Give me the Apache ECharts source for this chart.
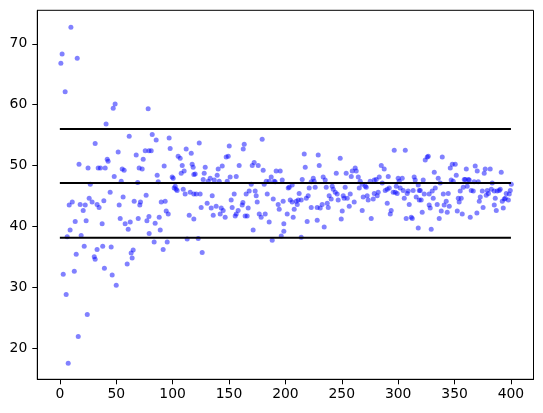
<!DOCTYPE html>
<html>
<head>
<meta charset="utf-8">
<script src="https://cdn.jsdelivr.net/npm/echarts@6/dist/echarts.min.js"></script>
<style>
html,body{margin:0;padding:0;background:#fff;}
#chart{width:543px;height:413px;}
</style>
</head>
<body>
<div id="chart"></div>
<script>
const points = [
[9.8,72.7],[2,68.3],[0.9,66.8],[15.4,67.6],[4.7,62.1],[31.3,53.6],[17,50.2],[25,49.6],[34,49.6],[36,49.6],[27,46.9],[8.3,43.5],[11,44],[18,43.6],[22.5,43.5],[20.7,42.6],[26,44.6],[28.6,44],[33,43.6],[34.8,43.1],[39,44.2],[13.6,40.8],[23.3,40.9],[9.1,39.4],[37.5,40.4],[6.5,38.3],[18.9,38.5],[21.6,36.7],[14.5,35.4],[30.5,35],[31.3,34.6],[33,36.2],[38,36.7],[3,32.1],[12.8,32.6],[39.5,33.1],[5.6,28.8],[24.3,25.5],[16.3,21.9],[7.4,17.5],
[41,56.8],[49,60.1],[47.3,59.4],[78.3,59.3],[61.5,54.8],[51.7,52.2],[67.7,51.7],[75.7,52.4],[79,52.4],[73.9,51],[42,51],[42.8,50.7],[40.2,49.6],[55.3,49.4],[57,49.2],[70.3,49.6],[73,49.4],[48.2,48.2],[54.4,47.4],[69,47.2],[44.6,45.6],[56.1,44.8],[65.9,44.1],[71.5,44],[76.5,45.1],[70.9,43.5],[52.6,43.5],[53.5,41.3],[69.5,41.3],[79,41.6],[77.2,40.9],[62.4,40.7],[57.9,40.4],[60.6,39.5],[79.2,38.8],[45.5,36.6],[65,36.1],[63.2,35.6],[64.1,34.8],[59.7,33.8],[46.4,32],[50,30.3],
[81.9,55.1],[96.9,54.5],[85.4,54.2],[97.8,52.8],[81,52.4],[112,52.7],[116.5,52],[104.9,51.5],[106.7,51.2],[108.5,50],[117.3,50.2],[118.2,49.7],[92.5,49.9],[110.2,49.1],[107.6,48.7],[118.8,48.5],[86.3,48.4],[99.6,48.1],[100.5,47.9],[87.2,47.3],[102.3,46.6],[101.4,46.3],[103.1,46.1],[104,45.9],[109.4,46.1],[115.6,45.6],[111.1,45.3],[118.8,45.3],[89.9,44],[93.4,44.1],[94.3,42.5],[96.1,42],[88.1,41.5],[114.7,41.8],[118.8,41.2],[84.5,40.5],[89,39.4],[112.9,37.9],[83.6,37.4],[95.2,37.4],[91.6,36.2],
[123.6,53.7],[150.2,53.2],[147.5,51.4],[149.3,51.5],[128.9,49.7],[144,49.9],[140.4,49.4],[159,50],[120,48.6],[128,48.7],[139.5,48.4],[151,48.1],[156.4,48.2],[127.1,47.7],[133.3,47.9],[136.9,47.6],[131.5,47.4],[141.3,47.4],[148.4,47.4],[120.9,45.3],[124.4,45.3],[135.1,45],[154.6,45.3],[151.9,44.3],[162.3,43.9],[130.6,43.8],[125.3,43.1],[134.2,43],[138.6,43.3],[143.1,43],[144.8,42.6],[152.8,43.1],[158.1,42.6],[156.4,42],[155.5,41.7],[136,41.8],[142.2,42],[146.6,41.5],[122.7,38],[126.2,35.7],
[179.4,54.3],[163.5,53.5],[162.6,52.7],[170.6,50],[172.3,50.5],[175.9,50],[180.3,49.2],[191.8,49.1],[195.4,49.1],[187.4,48.1],[183,47.4],[185.6,47.4],[190,47.4],[190.9,47.3],[197.2,47.6],[169.7,46.9],[181.2,46.9],[167.9,45.8],[165.2,45.3],[173.2,45.8],[174.1,45],[183.9,45.3],[189.2,44.5],[198,44.1],[175,44],[193.6,43.6],[194.5,42.8],[167,43],[164.3,41.7],[166.1,41.7],[176.8,42],[178.5,41.5],[182.1,42],[185.6,40.7],[198.6,40.4],[198.6,39.2],[171.4,39.4],[196.3,38.4],[188.3,37.7],[161.7,43.5],
[216.7,51.9],[229.1,51.7],[230,50],[217.6,49.7],[233.5,48.1],[235.3,47.6],[214.9,47.7],[224.7,47.9],[225.5,47.4],[222.9,47.3],[206,46.8],[203.4,46.4],[202.5,46.3],[221.1,46.3],[226.4,46.4],[236.2,46.4],[212.2,45.4],[238.8,45],[220.2,45],[218.5,44.6],[204.3,44.3],[206,44],[209.6,44.1],[211.4,44.3],[214,44.3],[210.5,43.6],[232.6,43.6],[237.1,43.8],[238,43.1],[228.2,43.1],[222.9,43.1],[230.9,43],[207.8,42.8],[201.6,42],[206.9,41.5],[219.3,40.8],[228.2,41],[234.4,39.9],[214,38.2],
[248.6,51.2],[245.1,48.7],[253.9,48.7],[258.4,48.2],[259.3,49.1],[261.9,49.6],[262.8,49.1],[264.6,48.1],[266.3,47.4],[268.1,46.9],[270.8,46.6],[275.2,47.4],[278.8,47.6],[241.5,46.6],[242.4,46.1],[244.2,45.6],[245.9,45.3],[253,46.4],[265.5,46.3],[271.7,46.4],[278.8,45.4],[240.6,44.5],[246.8,44.3],[251.3,45],[252.1,44.6],[254.8,44.6],[257.5,45.3],[269,44.8],[272.5,45],[273.4,44.3],[277.9,44.5],[261,44],[256.6,43.3],[250.4,42.5],[268.1,42.6],[249.5,41.2],[276.1,41.3],
[296.5,52.5],[306.3,52.5],[285,50],[287.6,49.4],[291.2,48.2],[283.2,48.1],[280.5,47.7],[300,47.9],[303.6,47.9],[300.9,47.4],[314.2,48.1],[315.1,47.6],[317.8,46.8],[285.9,47.1],[298.3,46.6],[301.8,46.3],[304.5,45.9],[308.9,45.8],[313.3,45.9],[288.5,45.9],[290.3,46.1],[292.1,46.3],[295.6,45.6],[297.4,45.6],[299.1,45.4],[318.7,45.9],[282.3,45.6],[281.4,45],[308,45.4],[316,44.8],[305.4,44.6],[318.7,44.3],[290.3,43.8],[309.8,43.6],[293.8,42.6],[293,42],[307.1,41.3],[311.6,41.5],[312.5,41.3],[317.8,39.7],
[326.7,51.5],[325.8,51.4],[324,50.9],[339.1,51.4],[348,50.2],[350.6,50.2],[346.2,49.6],[332,48.9],[351.5,48.4],[335.5,47.9],[322.2,47.6],[347,47.6],[348.8,47.4],[358.6,47.7],[337.3,47.1],[319.6,45.9],[323.1,45.3],[320.4,44.3],[332.9,46.3],[330.2,45.8],[327.5,45.3],[340,45.3],[344.4,45.4],[355,45.8],[357.7,46.4],[331.1,44.6],[342.6,44.1],[353.3,44.6],[355.9,44.6],[354.1,44],[334.6,43.6],[327.5,43.5],[328.4,43],[340.8,43.5],[345.3,43.3],[321.3,42.3],[338.2,42.5],[343.5,42.3],[352.4,42.5],[356.8,42],[336.4,41.3],[329.3,39.5],
[368.3,49.9],[360.4,49.4],[370.1,49.1],[377.2,49.4],[381.6,49.4],[376.3,48.7],[391.4,48.9],[359.5,47.7],[362.2,47.7],[363,47.6],[367.4,47.3],[371,47.3],[383.4,47.1],[400.3,46.9],[361.2,46.6],[364.8,45.9],[366.6,45.8],[374.6,45.8],[379,45.9],[382.6,46.1],[385.2,45.8],[387.8,45.8],[390.5,46.1],[389.6,45.9],[399.4,45.9],[398.5,45.3],[395.8,45.4],[378.1,45.1],[380,45.4],[372.8,44.8],[371.9,44.1],[386.1,44.6],[392.3,44.1],[394.1,44.5],[397.7,44.3],[395,44.6],[385.2,43.5],[375.3,43.1],[387,42.6],[393.2,43],[363.9,41.5],[369.8,42.2]
];
const lineLevels = [56.0, 47.1, 38.1];
const lineStartX = 0;
const lineEndX = 400;
const xTicks = [0, 50, 100, 150, 200, 250, 300, 350, 400];
const yTicks = [20, 30, 40, 50, 60, 70];

const chart = echarts.init(document.getElementById('chart'), null, {renderer: 'canvas'});
const font = '"DejaVu Sans", sans-serif';
const lineSeries = lineLevels.map(v => ({
  type: 'line',
  data: [[lineStartX, v], [lineEndX, v]],
  symbol: 'none',
  lineStyle: {color: '#000', width: 2},
  z: 5,
  silent: true,
  animation: false
}));
chart.setOption({
  animation: false,
  backgroundColor: '#fff',
  grid: {left: 37.3, right: 9.5, top: 10.3, bottom: 33.7, show: true, borderColor: '#000', borderWidth: 1, backgroundColor: 'transparent'},
  xAxis: {
    type: 'value', min: -20, max: 420,
    splitLine: {show: false},
    axisLine: {show: true, onZero: false, lineStyle: {color: '#000', width: 1}},
    axisTick: {show: true, length: 5, lineStyle: {color: '#000', width: 1}, customValues: xTicks},
    axisLabel: {color: '#000', fontSize: 13.9, fontFamily: font, margin: 8, customValues: xTicks}
  },
  yAxis: {
    type: 'value', min: 14.85, max: 75.5,
    splitLine: {show: false},
    axisLine: {show: true, onZero: false, lineStyle: {color: '#000', width: 1}},
    axisTick: {show: true, length: 5, lineStyle: {color: '#000', width: 1}, customValues: yTicks},
    axisLabel: {color: '#000', fontSize: 13.9, fontFamily: font, margin: 10, customValues: yTicks}
  },
  series: [{
    type: 'scatter',
    data: points,
    symbol: 'circle',
    symbolSize: 5,
    itemStyle: {color: 'rgba(0,0,255,0.62)'},
    z: 2,
    silent: true
  }].concat(lineSeries)
});
</script>
</body>
</html>
